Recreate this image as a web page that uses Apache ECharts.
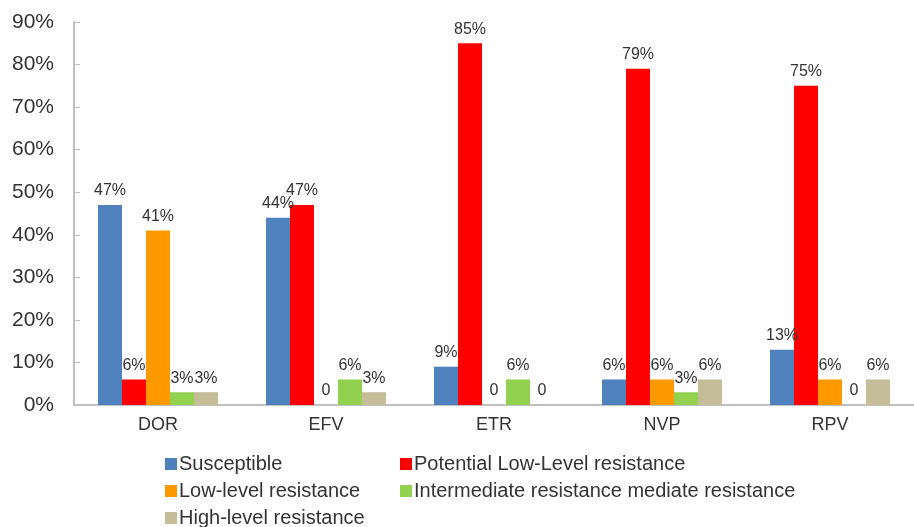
<!DOCTYPE html>
<html>
<head>
<meta charset="utf-8">
<script src="https://cdn.jsdelivr.net/npm/echarts@6/dist/echarts.min.js"></script>
<style>
  html, body { margin: 0; padding: 0; background: #fff; }
  #main { width: 914px; height: 527px; }
</style>
</head>
<body>
<div id="main"></div>
<script>
// 数据
var categories = ['DOR', 'EFV', 'ETR', 'NVP', 'RPV']
var susceptible = [47, 44, 9, 6, 13]
var potentialLow = [6, 47, 85, 79, 75]
var lowLevel = [41, 0, 0, 6, 6]
var intermediate = [3, 6, 6, 3, 0]
var highLevel = [3, 3, 0, 6, 6]

var names = [
  'Susceptible',
  'Potential Low-Level resistance',
  'Low-level resistance',
  'Intermediate resistance mediate resistance',
  'High-level resistance'
]
var colors = ['#4F81BD', '#FF0000', '#FF9900', '#92D050', '#C4BD97']
var values = [susceptible, potentialLow, lowLevel, intermediate, highLevel]

var myChart = echarts.init(document.getElementById('main'))

var legendBase = {
  icon: 'rect',
  itemWidth: 12,
  itemHeight: 12,
  itemGap: 14,
  orient: 'horizontal',
  selectedMode: false,
  textStyle: { fontSize: 20, color: '#333', fontFamily: 'Arial, Liberation Sans, sans-serif', padding: [0, 0, 0, -3] }
}

myChart.setOption({
  animation: false,
  grid: { left: 74, right: 0, top: 22, bottom: 122 },
  legend: [
    Object.assign({}, legendBase, { data: [names[0]], left: 160, top: 449 }),
    Object.assign({}, legendBase, { data: [names[1]], left: 395, top: 449 }),
    Object.assign({}, legendBase, { data: [names[2]], left: 160, top: 476 }),
    Object.assign({}, legendBase, { data: [names[3]], left: 395, top: 476 }),
    Object.assign({}, legendBase, { data: [names[4]], left: 160, top: 503 })
  ],
  xAxis: {
    type: 'category',
    data: categories,
    axisLine: { lineStyle: { color: '#BFBFBF', width: 2 } },
    axisTick: { show: false },
    axisLabel: { fontSize: 18, color: '#333', margin: 11, fontFamily: 'Arial, Liberation Sans, sans-serif' }
  },
  yAxis: {
    type: 'value',
    min: 0,
    max: 90,
    interval: 10,
    axisLine: { show: true, lineStyle: { color: '#BFBFBF', width: 2 } },
    axisTick: { show: true, inside: true, length: 6, lineStyle: { color: '#BFBFBF' } },
    splitLine: { show: false },
    axisLabel: {
      formatter: '{value}%',
      fontSize: 21,
      color: '#333',
      margin: 20,
      fontFamily: 'Arial, Liberation Sans, sans-serif'
    }
  },
  series: names.map(function (n, i) {
    return {
      name: n,
      type: 'bar',
      data: values[i],
      barWidth: 24,
      barGap: '0%',
      itemStyle: { color: colors[i] },
      label: {
        show: true,
        position: 'top',
        distance: 6,
        fontSize: 16,
        color: '#333',
        fontFamily: 'Arial, Liberation Sans, sans-serif',
        formatter: function (p) { return p.value === 0 ? '0' : p.value + '%' }
      }
    }
  })
})
</script>
</body>
</html>
